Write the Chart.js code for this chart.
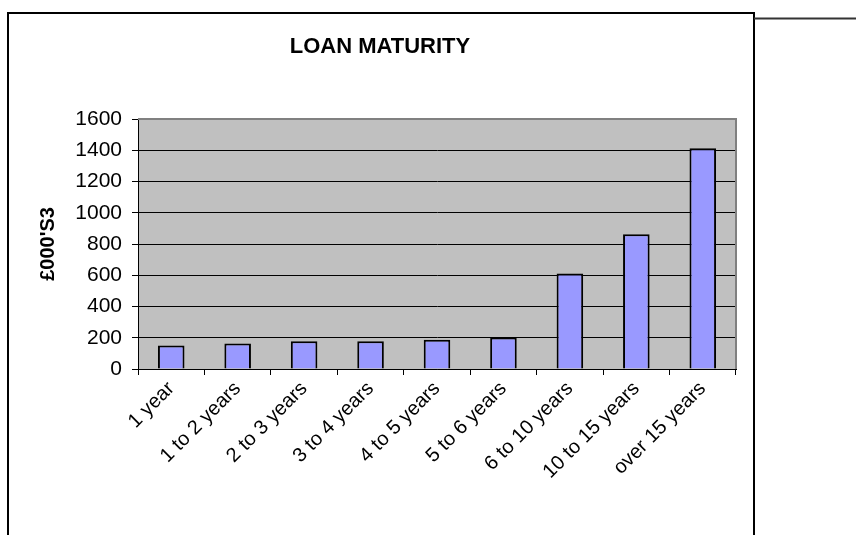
<!DOCTYPE html>
<html>
<head>
<meta charset="utf-8">
<script src="https://cdn.jsdelivr.net/npm/chart.js@4"></script>
<style>
  body { margin: 0; background: #fff; }
  canvas { display: block; }
</style>
</head>
<body>
<canvas id="loan-chart" width="856" height="535"></canvas>
<script>
// Categories and values (£000's)
const maturities = ['1 year', '1 to 2 years', '2 to 3 years', '3 to 4 years', '4 to 5 years',
  '5 to 6 years', '6 to 10 years', '10 to 15 years', 'over 15 years'];
const amounts = [151, 164, 177, 177, 187, 202, 612, 863, 1413];
const yTicks = [0, 200, 400, 600, 800, 1000, 1200, 1400, 1600];

const fontFamily = '"Liberation Sans", Arial, sans-serif';

// grey plot area + frame lines round the chart
const excelLook = {
  id: 'excelLook',
  beforeDraw(chart) {
    const { ctx, chartArea: a } = chart;
    ctx.save();
    ctx.fillStyle = '#fff';
    ctx.fillRect(0, 0, chart.width, chart.height);
    ctx.fillStyle = '#c0c0c0';
    ctx.fillRect(a.left, a.top, a.right - a.left, a.bottom - a.top);
    ctx.restore();
  },
  beforeDatasetsDraw(chart) {
    const { ctx, chartArea: a } = chart;
    ctx.save();
    ctx.strokeStyle = '#808080';
    ctx.lineWidth = 2;
    ctx.beginPath();
    ctx.moveTo(a.left, a.top);
    ctx.lineTo(a.right, a.top);
    ctx.lineTo(a.right, a.bottom);
    ctx.stroke();
    ctx.restore();
  },
  afterDraw(chart) {
    const { ctx } = chart;
    ctx.save();
    ctx.strokeStyle = '#000';
    ctx.lineWidth = 2;
    ctx.beginPath();
    ctx.moveTo(8, chart.height);
    ctx.lineTo(8, 13);
    ctx.lineTo(754, 13);
    ctx.lineTo(754, chart.height);
    ctx.stroke();
    ctx.strokeStyle = '#333';
    ctx.beginPath();
    ctx.moveTo(754, 18.5);
    ctx.lineTo(chart.width, 18.5);
    ctx.stroke();
    ctx.restore();
  }
};

new Chart(document.getElementById('loan-chart'), {
  type: 'bar',
  data: {
    labels: maturities,
    datasets: [{
      label: "£000'S3",
      data: amounts,
      backgroundColor: '#9999ff',
      borderColor: '#000',
      borderWidth: 2,
      barPercentage: 0.4,
      categoryPercentage: 1
    }]
  },
  options: {
    responsive: false,
    animation: false,
    layout: { padding: { left: 24, right: 120, top: 0, bottom: 0 } },
    plugins: {
      legend: { display: false },
      tooltip: { enabled: false },
      title: {
        display: true,
        text: 'LOAN MATURITY',
        color: '#000',
        font: { family: fontFamily, size: 22, weight: 'bold' },
        padding: { top: 34, bottom: 58.6 }
      }
    },
    scales: {
      x: {
        grid: { display: true, drawOnChartArea: false, drawTicks: true, tickLength: 6, color: '#000', offset: true },
        border: { color: '#000', width: 1 },
        ticks: {
          color: '#000',
          font: { family: fontFamily, size: 20 },
          autoSkip: false,
          minRotation: 45,
          maxRotation: 45,
          padding: 2
        },
        afterFit(scale) { scale.height = 166; }
      },
      y: {
        min: 0,
        max: 1600,
        afterBuildTicks(scale) { scale.ticks = yTicks.map(v => ({ value: v })); },
        grid: {
          color: ctx => (ctx.tick && ctx.tick.value === 1600 ? '#808080' : '#000'),
          tickColor: '#000',
          tickLength: 6,
          lineWidth: 1
        },
        border: { color: '#000', width: 1 },
        ticks: {
          color: '#000',
          font: { family: fontFamily, size: 21 },
          padding: 10,
          callback: v => String(v)
        },
        title: {
          display: true,
          text: "£000'S3",
          color: '#000',
          font: { family: fontFamily, size: 20, weight: 'bold' },
          padding: { top: 12, bottom: 0 }
        },
        afterFit(scale) { scale.width = 114; }
      }
    }
  },
  plugins: [excelLook]
});
</script>
</body>
</html>
